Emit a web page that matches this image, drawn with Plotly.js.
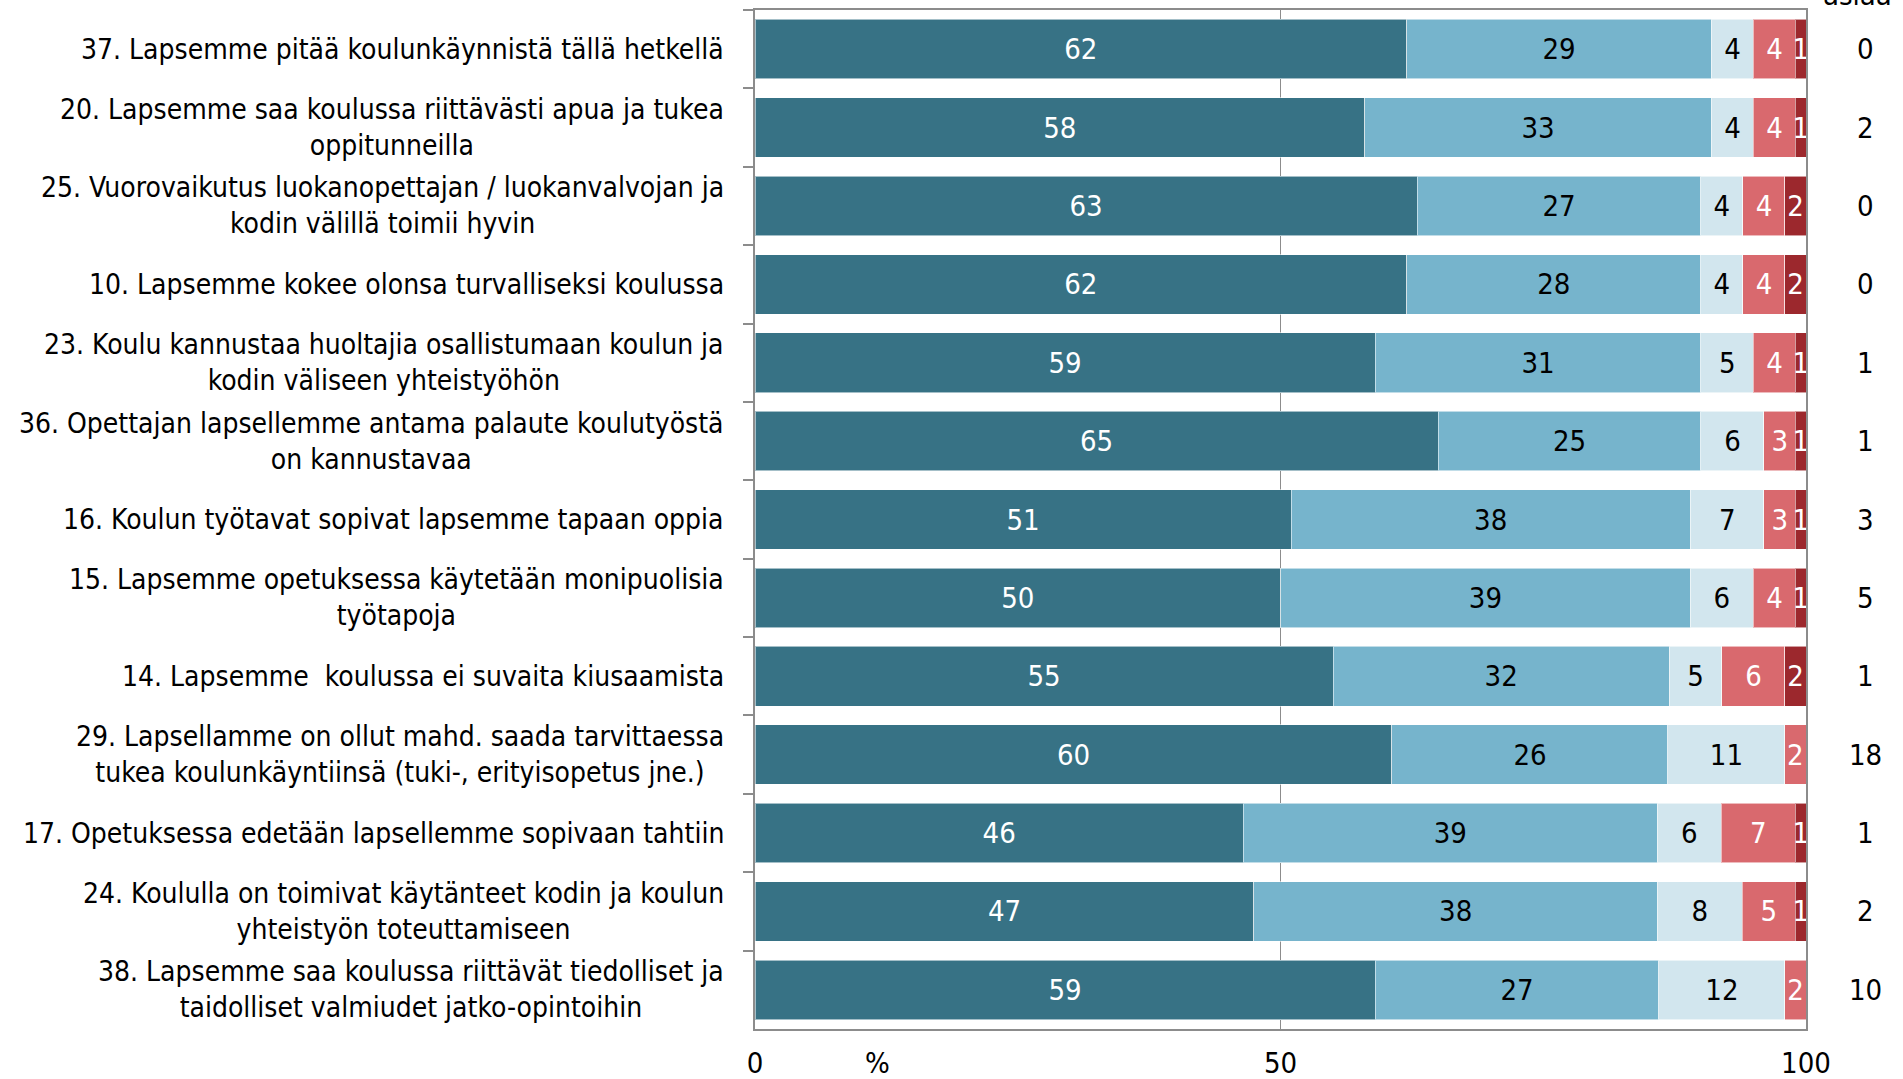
<!DOCTYPE html>
<html>
<head>
<meta charset="utf-8">
<script src="https://cdn.plot.ly/plotly-3.0.1.min.js"></script>
<style>
  html, body { margin: 0; padding: 0; background: #fff; }
  #chart { width: 1903px; height: 1079px; }
</style>
</head>
<body>
<div id="chart"></div>
<script>
// Question ids (category keys, top to bottom)
const questionIds = ['K37', 'K20', 'K25', 'K10', 'K23', 'K36', 'K16', 'K15', 'K14', 'K29', 'K17', 'K24', 'K38'];

// Statement texts shown at the left of each bar
const questionLabels = [
  '37. Lapsemme pitää koulunkäynnistä tällä hetkellä',
  '20. Lapsemme saa koulussa riittävästi apua ja tukea<br>oppitunneilla',
  '25. Vuorovaikutus luokanopettajan / luokanvalvojan ja<br>kodin välillä toimii hyvin',
  '10. Lapsemme kokee olonsa turvalliseksi koulussa',
  '23. Koulu kannustaa huoltajia osallistumaan koulun ja<br>kodin väliseen yhteistyöhön',
  '36. Opettajan lapsellemme antama palaute koulutyöstä<br>on kannustavaa',
  '16. Koulun työtavat sopivat lapsemme tapaan oppia',
  '15. Lapsemme opetuksessa käytetään monipuolisia<br>työtapoja',
  '14. Lapsemme  koulussa ei suvaita kiusaamista',
  '29. Lapsellamme on ollut mahd. saada tarvittaessa<br>tukea koulunkäyntiinsä (tuki-, erityisopetus jne.)',
  '17. Opetuksessa edetään lapsellemme sopivaan tahtiin',
  '24. Koululla on toimivat käytänteet kodin ja koulun<br>yhteistyön toteuttamiseen',
  '38. Lapsemme saa koulussa riittävät tiedolliset ja<br>taidolliset valmiudet jatko-opintoihin'
];

// Answer shares (%) per response option
const fullyAgree     = [62, 58, 63, 62, 59, 65, 51, 50, 55, 60, 46, 47, 59];
const partlyAgree    = [29, 33, 27, 28, 31, 25, 38, 39, 32, 26, 39, 38, 27];
const neutral        = [4, 4, 4, 4, 5, 6, 7, 6, 5, 11, 6, 8, 12];
const partlyDisagree = [4, 4, 4, 4, 4, 3, 3, 4, 6, 2, 7, 5, 2];
const fullyDisagree  = [1, 1, 2, 2, 1, 1, 1, 1, 2, 0, 1, 1, 0];

// "Ei osaa sanoa" counts in the right-hand column
const cannotSay = [0, 2, 0, 0, 1, 1, 3, 5, 1, 18, 1, 2, 10];

// X axis ticks
const xTicks = [0, 50, 100];

const FONT = "'DejaVu Sans Condensed', 'DejaVu Sans', sans-serif";
const FS = 29;        // numbers in bars, axis and count column
const LABEL_FS = 28;  // statement texts

const series = [
  { name: 'Täysin samaa mieltä',      values: fullyAgree,     color: '#377285', text: '#ffffff' },
  { name: 'Jokseenkin samaa mieltä',  values: partlyAgree,    color: '#76b4cc', text: '#000000' },
  { name: 'Ei samaa eikä eri mieltä', values: neutral,        color: '#d2e6ee', text: '#000000' },
  { name: 'Jokseenkin eri mieltä',    values: partlyDisagree, color: '#d9696e', text: '#ffffff' },
  { name: 'Täysin eri mieltä',        values: fullyDisagree,  color: '#9c282d', text: '#ffffff' }
];

const traces = series.map(s => ({
  type: 'bar',
  orientation: 'h',
  name: s.name,
  y: questionIds,
  x: s.values,
  text: s.values.map(v => v > 0 ? String(v) : ''),
  textposition: 'inside',
  insidetextanchor: 'middle',
  textangle: 0,
  constraintext: 'none',
  cliponaxis: true,
  textfont: { family: FONT, size: FS, color: s.text },
  marker: { color: s.color, line: { color: 'rgba(255,255,255,0.55)', width: 1 } },
  hovertemplate: '%{x}<extra>' + s.name + '</extra>',
  showlegend: false
}));

const annotations = [];

questionIds.forEach((id, i) => {
  annotations.push({
    xref: 'paper', yref: 'y',
    x: 0, y: id,
    xshift: -29,
    xanchor: 'right', yanchor: 'middle',
    align: 'center',
    showarrow: false,
    text: questionLabels[i],
    font: { family: FONT, size: LABEL_FS, color: '#000' }
  });
  annotations.push({
    xref: 'paper', yref: 'y',
    x: 1, y: id,
    xshift: 59,
    xanchor: 'center', yanchor: 'middle',
    showarrow: false,
    text: String(cannotSay[i]),
    font: { family: FONT, size: FS, color: '#000' }
  });
});

// Column header for the count column
annotations.push({
  xref: 'paper', yref: 'paper',
  x: 1, y: 1,
  xshift: 51, yshift: -4,
  xanchor: 'center', yanchor: 'bottom',
  showarrow: false,
  text: 'asiaa',
  font: { family: FONT, size: FS, color: '#000' }
});

// Unit marker next to the axis
annotations.push({
  xref: 'paper', yref: 'paper',
  x: 0, y: 0,
  xshift: 122, yshift: -34,
  xanchor: 'center', yanchor: 'middle',
  showarrow: false,
  text: '%',
  font: { family: FONT, size: FS, color: '#000' }
});

const layout = {
  width: 1903,
  height: 1079,
  margin: { l: 755, r: 97, t: 10, b: 50, pad: 0 },
  paper_bgcolor: '#ffffff',
  plot_bgcolor: '#ffffff',
  barmode: 'stack',
  barnorm: 'percent',
  bargap: 0.24,
  xaxis: {
    range: [0, 100],
    tickvals: xTicks,
    ticktext: xTicks.map(String),
    ticks: '',
    ticklabelstandoff: 7,
    showgrid: true,
    gridcolor: '#8c8c8c',
    gridwidth: 1.5,
    zeroline: false,
    showline: true,
    linecolor: '#8c8c8c',
    linewidth: 2,
    mirror: true,
    tickfont: { family: FONT, size: FS, color: '#000' },
    fixedrange: true
  },
  yaxis: {
    type: 'category',
    categoryorder: 'array',
    categoryarray: questionIds,
    autorange: 'reversed',
    showticklabels: false,
    ticks: 'outside',
    tickson: 'boundaries',
    ticklen: 10,
    tickcolor: '#8c8c8c',
    tickwidth: 2,
    showgrid: false,
    zeroline: false,
    showline: true,
    linecolor: '#8c8c8c',
    linewidth: 2,
    mirror: true,
    fixedrange: true
  },
  annotations: annotations,
  font: { family: FONT, size: FS, color: '#000' }
};

Plotly.newPlot('chart', traces, layout, { displayModeBar: false, staticPlot: true });
</script>
</body>
</html>
